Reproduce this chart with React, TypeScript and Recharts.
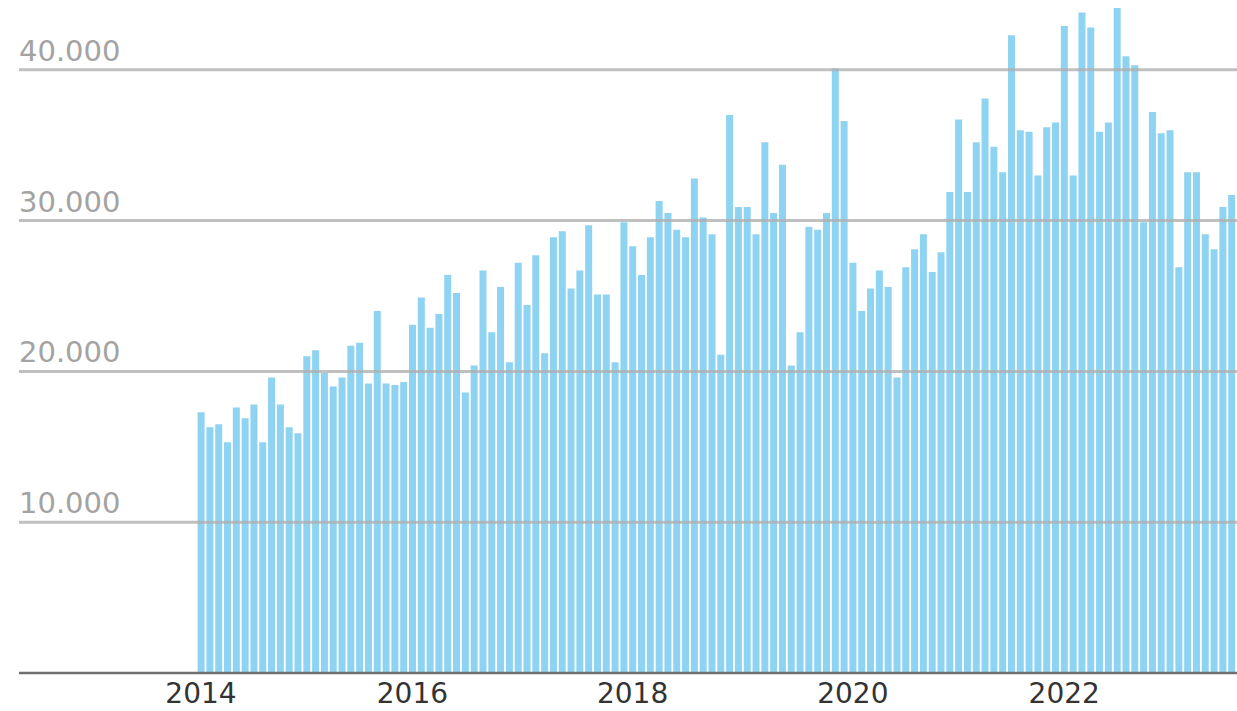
import React from "react";
import { BarChart, Bar, XAxis, YAxis, CartesianGrid } from "recharts";

// Monthly values (in thousands), starting January 2014
const monthlyThousands: number[] = [
  17.3, 16.3, 16.5, 15.3, 17.6, 16.9, 17.8, 15.3, 19.6, 17.8, 16.3, 15.9,
  21.0, 21.4, 19.9, 19.0, 19.6, 21.7, 21.9, 19.2, 24.0, 19.2, 19.1, 19.3,
  23.1, 24.9, 22.9, 23.8, 26.4, 25.2, 18.6, 20.4, 26.7, 22.6, 25.6, 20.6,
  27.2, 24.4, 27.7, 21.2, 28.9, 29.3, 25.5, 26.7, 29.7, 25.1, 25.1, 20.6,
  29.9, 28.3, 26.4, 28.9, 31.3, 30.5, 29.4, 28.9, 32.8, 30.2, 29.1, 21.1,
  37.0, 30.9, 30.9, 29.1, 35.2, 30.5, 33.7, 20.4, 22.6, 29.6, 29.4, 30.5,
  40.1, 36.6, 27.2, 24.0, 25.5, 26.7, 25.6, 19.6, 26.9, 28.1, 29.1, 26.6,
  27.9, 31.9, 36.7, 31.9, 35.2, 38.1, 34.9, 33.2, 42.3, 36.0, 35.9, 33.0,
  36.2, 36.5, 42.9, 33.0, 43.8, 42.8, 35.9, 36.5, 44.1, 40.9, 40.3, 29.9,
  37.2, 35.8, 36.0, 26.9, 33.2, 33.2, 29.1, 28.1, 30.9, 31.7,
];

// Year tick labels and the bar they sit under
const yearLabels: string[] = ["2014", "2016", "2018", "2020", "2022"];
const yearTickBars: number[] = [0, 24, 49, 74, 98];

const yTicks: number[] = [10000, 20000, 30000, 40000];

const data = monthlyThousands.map((v, i) => ({ i, value: Math.round(v * 1000) }));

const fmt = (v: number) =>
  `${Math.floor(v / 1000)}.${String(v % 1000).padStart(3, "0")}`;

const renderYTick = (props: any) => {
  const { x, y, payload } = props;
  return (
    <text
      x={x}
      y={y - 9}
      textAnchor="start"
      fill="#a3a3a3"
      fontSize={29}
      fontFamily="DejaVu Sans"
    >
      {fmt(payload.value)}
    </text>
  );
};

export default function App() {
  return (
    <div style={{ position: "absolute", left: 0, top: 0, background: "#fff" }}>
      <BarChart
        width={1237}
        height={711}
        data={data}
        margin={{ top: 8, right: 0, bottom: 0, left: 19 }}
        barCategoryGap={1}
      >
        <XAxis
          dataKey="i"
          type="category"
          padding={{ left: 177.6, right: 1 }}
          height={38}
          axisLine={{ stroke: "#707070", strokeWidth: 2.5 }}
          tickLine={false}
          tickSize={0}
          tickMargin={10}
          ticks={yearTickBars}
          interval={0}
          tickFormatter={(v: number) => yearLabels[yearTickBars.indexOf(v)] ?? ""}
          tick={{ fill: "#333", fontSize: 28, fontFamily: "DejaVu Sans" }}
        />
        <YAxis
          domain={[0, 44100]}
          ticks={yTicks}
          width={1}
          mirror
          axisLine={false}
          tickLine={false}
          tickSize={0}
          tickMargin={0}
          interval={0}
          tick={renderYTick}
        />
        <Bar dataKey="value" fill="#8ed3f1" isAnimationActive={false} />
        <CartesianGrid
          vertical={false}
          horizontalValues={yTicks}
          stroke="#b0b0b0"
          strokeWidth={3}
          strokeOpacity={0.8}
          zIndex={500}
        />
      </BarChart>
    </div>
  );
}
